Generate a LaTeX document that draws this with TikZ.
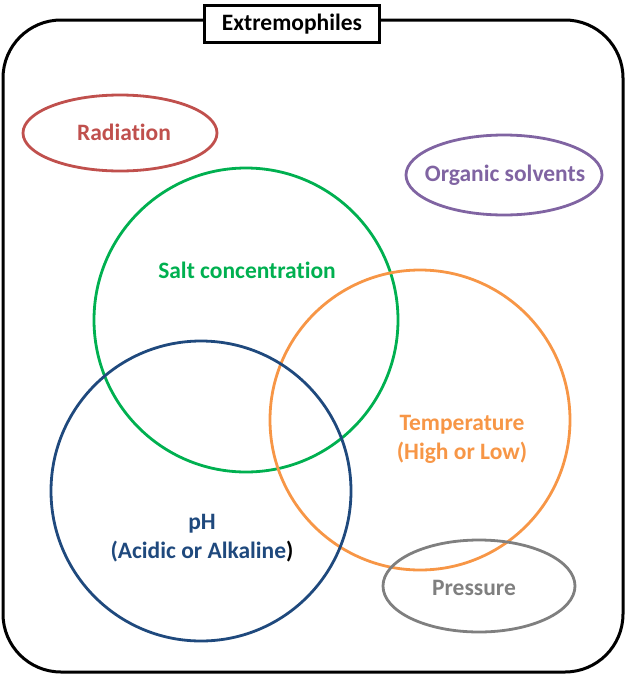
\documentclass[tikz,border=0pt]{standalone}
\usepackage{fontspec}
\setmainfont[Ligatures=NoCommon]{Carlito}
\definecolor{radc}{HTML}{C0504D}
\definecolor{orgc}{HTML}{8064A2}
\definecolor{saltc}{HTML}{00B050}
\definecolor{tempc}{HTML}{F79646}
\definecolor{phc}{HTML}{1F497D}
\definecolor{presc}{HTML}{7F7F7F}
\begin{document}
\begin{tikzpicture}[x=1pt,y=-1pt,
  lab/.style={font=\bfseries\fontsize{23.5}{29}\selectfont, align=center},
  ring/.style={line width=2.8pt}]
\useasboundingbox (0,0) rectangle (626,675);
\draw[line width=3pt, rounded corners=58pt] (3,20) rectangle (623,672);
\node[draw, line width=3pt, fill=white, minimum width=175pt, minimum height=37pt, font=\bfseries\fontsize{23.5}{29}\selectfont] (title) at (292,24) {Extremophiles};
% shapes
\draw[ring, radc] (120,133) ellipse [x radius=97, y radius=38];
\draw[ring, orgc] (504,175) ellipse [x radius=98, y radius=40];
\draw[ring, saltc] (246,320) circle [radius=152];
\draw[ring, tempc] (420,420) circle [radius=150];
\draw[ring, phc] (201,491) circle [radius=150];
\draw[ring, presc] (479,586) ellipse [x radius=96, y radius=46];
% labels
\node[lab, text=radc] (rad) at (124,132) {Radiation};
\node[lab, text=orgc] (org) at (505,175) {Organic solvents};
\node[lab, text=saltc] (salt) at (247,270) {Salt concentration};
\node[lab, text=tempc] (temp) at (462,439) {Temperature\\(High or Low)};
\node[lab, text=phc] (ph) at (202,538) {pH\\(Acidic or Alkaline\textcolor{black}{)}};
\node[lab, text=presc] (pres) at (474,588) {Pressure};
\end{tikzpicture}
\end{document}
